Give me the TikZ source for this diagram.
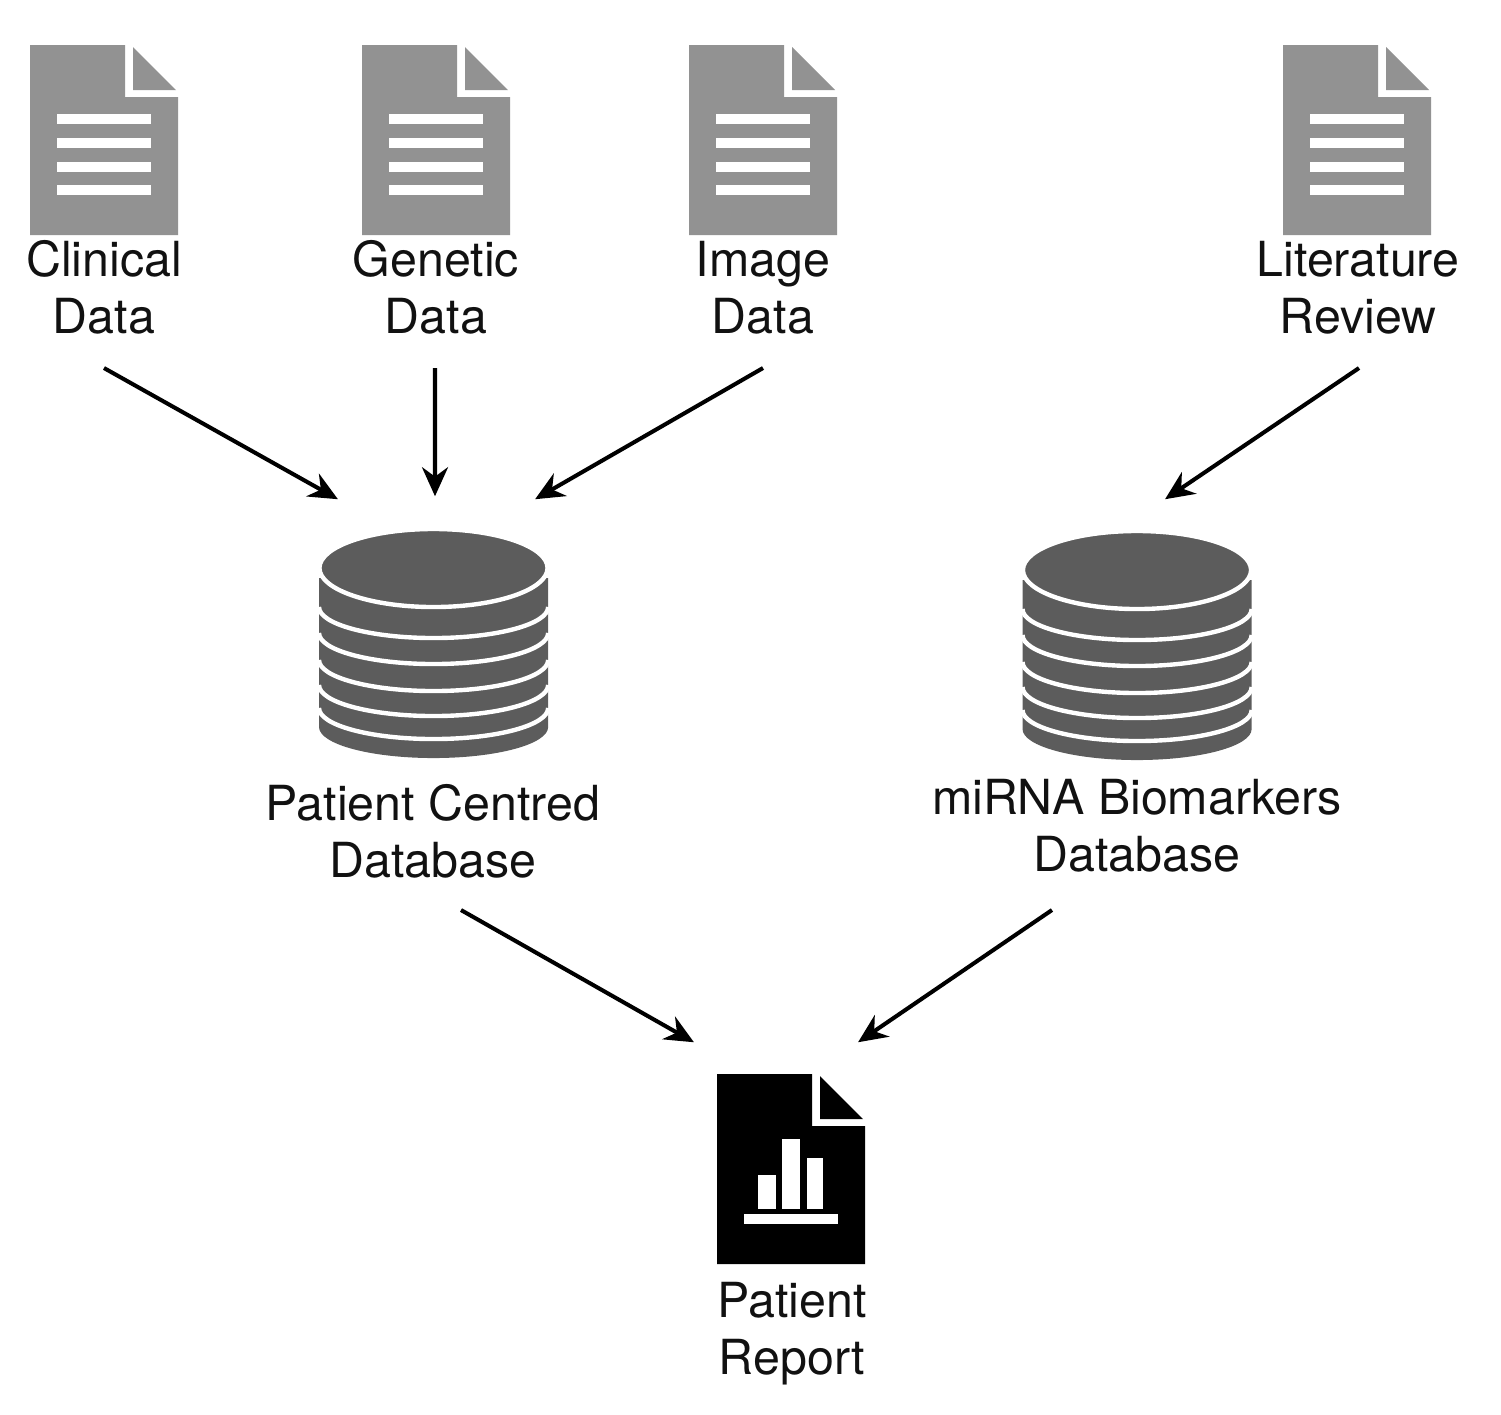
\documentclass[tikz,border=0pt]{standalone}
\usepackage{fontspec}
\setmainfont{TeX Gyre Heros}
\usetikzlibrary{arrows.meta,positioning}
\definecolor{docgray}{HTML}{929292}
\definecolor{dbgray}{HTML}{5C5C5C}
\definecolor{inktext}{HTML}{111111}
\begin{document}
\begin{tikzpicture}[
  x=0.01cm, y=-0.01cm,
  lbl/.style={anchor=south, inner sep=0pt, align=center, text=inktext, font=\fontsize{13.75}{16.3}\selectfont},
  dbnode/.style={inner sep=0pt, minimum width=2.3cm, minimum height=2.3cm},
  repnode/.style={inner sep=0pt, minimum width=1.48cm, minimum height=1.92cm},
  arr/.style={-{Stealth[length=2.9mm,width=2.6mm]}, line width=1.15pt, black},
  docshape/.pic={
    \fill (0,0) -- (95,0) -- (95,52) -- (148,52) -- (148,190) -- (0,190) -- cycle;
    \fill (103,2) -- (103,45) -- (146,45) -- cycle;
  },
  docicon/.pic={
    \begin{scope}[docgray]
      \pic {docshape};
    \end{scope}
    \foreach \ly in {74,98,122,145}
      \fill[white] (27,\ly-5) rectangle (121,\ly+5);
  },
  dbicon/.pic={
    \fill[dbgray] (-114.5,10) -- (-114.5,159) arc[start angle=180, end angle=360, x radius=1.145cm, y radius=0.31cm] -- (114.5,10) -- cycle;
    \foreach \by in {39,65,92,117,140}
      \draw[white, line width=1.25pt] (-114.5,\by) arc[start angle=180, end angle=360, x radius=1.145cm, y radius=0.31cm];
    \filldraw[fill=dbgray, draw=white, line width=1.25pt] (0,0) ellipse [x radius=1.14cm, y radius=0.39cm];
  }
]
\useasboundingbox (0,0) rectangle (1501,1414);

\pic at (30,45) {docicon};
\pic at (362,45) {docicon};
\pic at (689,45) {docicon};
\pic at (1283,45) {docicon};
\pic at (433.5,568) {dbicon};
\pic at (1137,570) {dbicon};
\pic at (717,1074) {docshape};

\fill[white] (758,1175) rectangle (776,1209);
\fill[white] (782,1139) rectangle (800,1209);
\fill[white] (807,1158) rectangle (823,1209);
\fill[white] (744,1214) rectangle (838,1224);

\node[lbl] (clinical) at (104,335) {Clinical\\Data};
\node[lbl] (genetic) at (436,335) {Genetic\\Data};
\node[lbl] (image) at (763,335) {Image\\Data};
\node[lbl] (literature) at (1358,335) {Literature\\Review};
\node[dbnode] (patientdb) at (433.5,645) {};
\node[dbnode] (mirnadb) at (1137,647) {};
\node[lbl] (patientlabel) at (433,879) {Patient Centred\\Database};
\node[lbl] (mirnalabel) at (1137,873) {miRNA Biomarkers\\Database};
\node[repnode] (report) at (791,1169) {};
\node[lbl] (reportlabel) at (792,1386) {Patient\\Report};

\draw[arr] ([yshift=-0.33cm]clinical.south) -- ([xshift=-0.955cm,yshift=0.3cm]patientdb.north);
\draw[arr] ([yshift=-0.33cm,xshift=-0.01cm]genetic.south) -- ([xshift=0.015cm,yshift=0.33cm]patientdb.north);
\draw[arr] ([yshift=-0.33cm]image.south) -- ([xshift=1.015cm,yshift=0.3cm]patientdb.north);
\draw[arr] ([yshift=-0.33cm,xshift=0.01cm]literature.south) -- ([xshift=0.28cm,yshift=0.32cm]mirnadb.north);
\draw[arr] ([xshift=0.28cm,yshift=-0.31cm]patientlabel.south) -- ([xshift=-0.97cm,yshift=0.3cm]report.north);
\draw[arr] ([xshift=-0.85cm,yshift=-0.37cm]mirnalabel.south) -- ([xshift=0.67cm,yshift=0.3cm]report.north);
\end{tikzpicture}
\end{document}
